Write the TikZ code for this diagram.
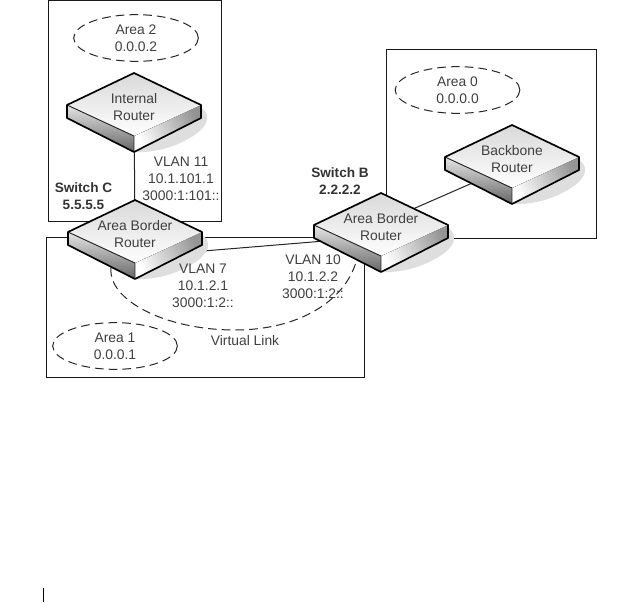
\documentclass[tikz,border=0pt]{standalone}
\usepackage{fontspec}
\setmainfont{Liberation Sans}
\usetikzlibrary{shapes.geometric}
\pgfdeclarelayer{back}
\pgfsetlayers{back,main}
\definecolor{txt}{HTML}{404040}
\tikzset{
  labeltext/.style={text=txt,align=center,inner sep=0pt,font=\fontsize{10.4}{12.75}\selectfont},
  boldtext/.style={text=black!80,align=center,inner sep=0pt,font=\fontsize{10.2}{12.75}\selectfont\bfseries},
  areabox/.style={draw=black!90,line width=0.75pt},
  arealabel/.style={labeltext,ellipse,draw=black!85,line width=0.75pt,dash pattern=on 6.5pt off 3.8pt,minimum width=93.5pt,minimum height=35pt},
  vlink/.style={draw=black!85,line width=0.75pt,dash pattern=on 6.5pt off 3.8pt},
  linkline/.style={draw=black!85,line width=0.75pt},
  routeredge/.style={draw=black,line width=1.25pt,line join=round}
}
\newcommand{\routerdev}[4]{%
  \begin{scope}[shift={(#2,#3)}]
    \fill[black!13] (67,35) .. controls (76,40) and (78,54) .. (52,67) .. controls (36,76) and (15,80) .. (0,79) -- (-10,70) -- cycle;
    \fill[top color=black!10,bottom color=black!60] (-67,32) -- (0,63) -- (0,79) -- (-67,45) -- cycle;
    \fill[left color=white,right color=black!42,shading angle=115] (67,32) -- (0,63) -- (0,79) -- (67,45) -- cycle;
    \fill[top color=black!15,bottom color=white] (0,0) -- (67,32) -- (0,63) -- (-67,32) -- cycle;
    \draw[black!85,line width=0.7pt] (-67,32) -- (0,63) -- (0,79);
    \draw[routeredge] (0,0) -- (67,32) -- (67,45) -- (0,79) -- (-67,45) -- (-67,32) -- cycle;
    \node[labeltext] (#1) at (0,34) {#4};
  \end{scope}}
\begin{document}
\begin{tikzpicture}[x=0.75pt,y=-0.75pt]
\useasboundingbox (0,0) rectangle (641,602);
\begin{pgfonlayer}{back}
\fill[white] (0,0) rectangle (641,602);
\end{pgfonlayer}
\draw[areabox] (48,0.6) rectangle (221,221);
\draw[areabox] (386,50) rectangle (596,238);
\draw[areabox] (46,237) rectangle (364,377);

\node[arealabel] (area2) at (136,38) {Area 2\\0.0.0.2};
\node[arealabel] (area0) at (457.5,90) {Area 0\\0.0.0.0};
\node[arealabel] (area1) at (115,346) {Area 1\\0.0.0.1};

\routerdev{internal}{134}{73}{Internal\\Router}
\routerdev{backbone}{512}{125}{Backbone\\Router}
\routerdev{borderC}{135}{200}{Area Border\\Router}
\routerdev{borderB}{381}{193}{Area Border\\Router}

\begin{pgfonlayer}{back}
  \draw[linkline] (internal) -- (borderC);
  \draw[linkline] ([yshift=-17pt]borderC.center) -- ([yshift=-7pt]borderB.center);
  \draw[linkline] ([yshift=3pt]borderB.center) -- ([yshift=-5pt]backbone.center);
\end{pgfonlayer}

\coordinate (vlA) at (111,268);
\coordinate (vlB) at (356,262);
\draw[vlink] (vlA) .. controls (108,300) and (165,330) .. (235,330) .. controls (300,330) and (345,300) .. (vlB);

\node[boldtext] (switchC) at (83.5,196.5) {Switch C\\5.5.5.5};
\node[boldtext] (switchB) at (340,181.5) {Switch B\\2.2.2.2};
\node[labeltext] (vlan11) at (181,178.5) {VLAN 11\\10.1.101.1\\3000:1:101::};
\node[labeltext] (vlan7) at (203,286) {VLAN 7\\10.1.2.1\\3000:1:2::};
\node[labeltext] (vlan10) at (313,276.5) {VLAN 10\\10.1.2.2\\3000:1:2::};
\node[labeltext] (vlink) at (245,341) {Virtual Link};

\draw[black,line width=0.8pt] (43.5,588) -- (43.5,602);
\end{tikzpicture}
\end{document}
